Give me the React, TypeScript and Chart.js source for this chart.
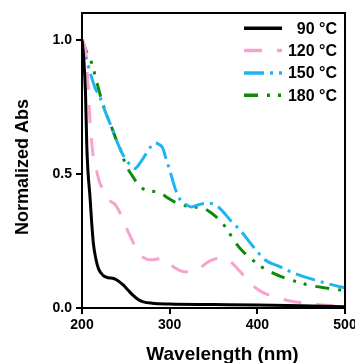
import React, { useEffect, useRef } from 'react';
import { Chart, registerables } from 'chart.js';

Chart.register(...registerables);

const seriesLabels = ['90 °C', '120 °C', '150 °C', '180 °C'];

const wl90 = [200, 202, 204, 205.5, 207, 209, 211, 213, 216, 219, 224, 230, 236, 241, 247, 253, 258, 264, 270, 280, 300, 350, 400, 450, 500];
const abs90 = [1.0, 0.93, 0.8, 0.6, 0.5, 0.42, 0.32, 0.24, 0.18, 0.145, 0.122, 0.113, 0.11, 0.102, 0.086, 0.065, 0.048, 0.032, 0.023, 0.018, 0.015, 0.013, 0.011, 0.008, 0.005];

const wl120 = [200, 204, 206, 207.5, 209, 211, 213, 216, 220, 226, 232, 238, 244, 249, 254, 259, 264, 270, 277, 285, 291, 298, 306, 315, 325, 335, 344, 352, 360, 366, 371, 382, 394, 405, 420, 435, 451, 470, 485, 500];
const abs120 = [1.0, 0.96, 0.88, 0.8, 0.7, 0.62, 0.56, 0.52, 0.47, 0.43, 0.4, 0.385, 0.35, 0.31, 0.275, 0.24, 0.205, 0.188, 0.18, 0.182, 0.186, 0.17, 0.15, 0.136, 0.134, 0.15, 0.172, 0.183, 0.187, 0.18, 0.168, 0.13, 0.086, 0.06, 0.041, 0.028, 0.019, 0.012, 0.009, 0.007];

const wl150 = [200, 205, 210, 215, 220, 228, 235, 240, 245.6, 252, 260, 266, 272, 278, 283, 288, 292, 296, 300, 306, 310, 314, 320, 325, 333, 340, 347, 355, 362, 369, 376, 382, 395, 409, 425, 439, 452, 466, 481, 496, 500];
const abs150 = [1.0, 0.93, 0.87, 0.82, 0.79, 0.72, 0.664, 0.62, 0.578, 0.545, 0.52, 0.54, 0.57, 0.6, 0.616, 0.61, 0.597, 0.555, 0.515, 0.448, 0.415, 0.396, 0.383, 0.377, 0.385, 0.39, 0.39, 0.378, 0.355, 0.328, 0.305, 0.284, 0.23, 0.179, 0.155, 0.134, 0.118, 0.104, 0.09, 0.078, 0.075];

const wl180 = [200, 203, 207, 211, 217, 222, 226, 234, 240, 245.6, 249, 253, 257, 262, 268, 278, 289, 298, 306, 315, 323, 330, 338, 346, 353, 360, 365, 371, 376, 382, 393, 405, 418, 431, 445, 458, 477, 496, 500];
const abs180 = [1.0, 0.974, 0.94, 0.914, 0.84, 0.78, 0.739, 0.672, 0.62, 0.578, 0.54, 0.515, 0.495, 0.47, 0.448, 0.437, 0.43, 0.41, 0.395, 0.385, 0.377, 0.376, 0.373, 0.358, 0.34, 0.317, 0.295, 0.265, 0.24, 0.216, 0.183, 0.153, 0.13, 0.112, 0.098, 0.086, 0.075, 0.067, 0.066];

const xTickValues = [200, 300, 400, 500];
const yTickValues = [0, 0.5, 1.0];

const xTitle = 'Wavelength (nm)';
const yTitle = 'Normalized Abs';

const FONT = "'Liberation Sans', Arial, sans-serif";

const colors = ['#000000', '#F5A3CF', '#1EB4F0', '#0B8A0B'];
const dashes = [[], [18, 15], [20, 6, 3, 6], [14, 9, 3, 8, 3, 9]];

function toPoints(xs: number[], ys: number[]) {
  return xs.map((x, i) => ({ x, y: ys[i] }));
}

const framePlugin = {
  id: 'frameAndLegend',
  afterDatasetsDraw(chart: any) {
    const { ctx, chartArea } = chart;
    const { left, right, top, bottom } = chartArea;
    ctx.save();
    // frame
    ctx.strokeStyle = '#000';
    ctx.lineWidth = 2;
    ctx.setLineDash([]);
    ctx.strokeRect(left, top, right - left, bottom - top);

    // legend
    chart.data.datasets.forEach((ds: any, i: number) => {
      const y = top + 15.3 + i * 22.3;
      ctx.beginPath();
      ctx.strokeStyle = ds.borderColor;
      ctx.lineWidth = 3.5;
      ctx.setLineDash(ds.borderDash || []);
      ctx.moveTo(right - 101, y);
      ctx.lineTo(right - 63, y);
      ctx.stroke();
      ctx.setLineDash([]);
      ctx.fillStyle = '#000';
      ctx.font = `bold 16px ${FONT}`;
      ctx.textAlign = 'right';
      ctx.textBaseline = 'middle';
      ctx.fillText(ds.label, right - 8, y + 1);
    });

    // axis titles
    ctx.fillStyle = '#000';
    ctx.font = `bold 19px ${FONT}`;
    ctx.textAlign = 'center';
    ctx.textBaseline = 'alphabetic';
    ctx.fillText(xTitle, (left + right) / 2 + 9, 360);

    ctx.save();
    ctx.translate(28, (top + bottom) / 2 + 6.5);
    ctx.rotate(-Math.PI / 2);
    ctx.font = `bold 18px ${FONT}`;
    ctx.fillText(yTitle, 0, 0);
    ctx.restore();

    ctx.restore();
  },
};

export default function App() {
  const canvasRef = useRef<HTMLCanvasElement | null>(null);

  useEffect(() => {
    if (!canvasRef.current) return;
    const seriesX = [wl90, wl120, wl150, wl180];
    const seriesY = [abs90, abs120, abs150, abs180];
    const chart = new Chart(canvasRef.current, {
      type: 'line',
      data: {
        datasets: seriesLabels.map((label, i) => ({
          label,
          data: toPoints(seriesX[i], seriesY[i]),
          borderColor: colors[i],
          backgroundColor: colors[i],
          borderWidth: 3,
          borderDash: dashes[i],
          pointRadius: 0,
          fill: false,
          cubicInterpolationMode: 'monotone' as const,
        })),
      },
      options: {
        animation: false,
        responsive: true,
        maintainAspectRatio: false,
        layout: { padding: { top: 13, right: 10, left: 0, bottom: 0 } },
        plugins: {
          legend: { display: false },
          tooltip: { enabled: false },
        },
        scales: {
          x: {
            type: 'linear',
            min: 200,
            max: 500,
            afterBuildTicks: (scale: any) => {
              scale.ticks = xTickValues.map((v) => ({ value: v }));
            },
            afterFit: (scale: any) => {
              scale.height = 55;
              scale.paddingLeft = 0;
              scale.paddingRight = 0;
            },
            ticks: {
              color: '#000',
              padding: 3,
              maxRotation: 0,
              autoSkip: false,
              font: { family: FONT, size: 14, weight: 'bold' },
            },
            grid: {
              drawOnChartArea: false,
              drawTicks: true,
              tickLength: 6,
              color: '#000',
              lineWidth: 2,
            },
            border: { display: false },
          },
          y: {
            type: 'linear',
            min: 0,
            max: 1.1,
            afterBuildTicks: (scale: any) => {
              scale.ticks = yTickValues.map((v) => ({ value: v }));
            },
            afterFit: (scale: any) => {
              scale.width = 82;
            },
            ticks: {
              color: '#000',
              padding: 4,
              callback: (v: any) => Number(v).toFixed(1),
              font: { family: FONT, size: 14, weight: 'bold' },
            },
            grid: {
              drawOnChartArea: false,
              drawTicks: true,
              tickLength: 6,
              color: '#000',
              lineWidth: 2,
            },
            border: { display: false },
          },
        },
      },
      plugins: [framePlugin],
    });
    return () => chart.destroy();
  }, []);

  return (
    <div style={{ position: 'fixed', left: 0, top: 0, width: 355, height: 363, background: '#fff' }}>
      <canvas ref={canvasRef} />
    </div>
  );
}
